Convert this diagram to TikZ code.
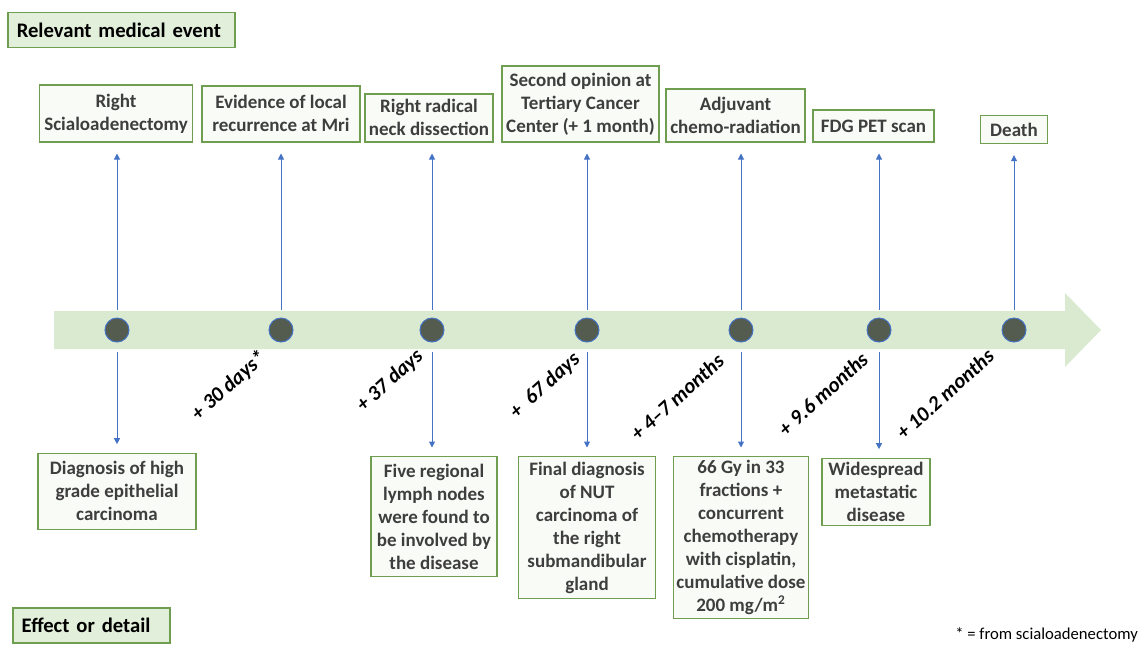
\documentclass[tikz,border=0pt]{standalone}
\usepackage{fontspec}
\setmainfont{Carlito}
\usetikzlibrary{positioning}
\usetikzlibrary{arrows.meta}
\definecolor{bandgreen}{RGB}{218,234,208}
\definecolor{keyfill}{RGB}{226,239,218}
\definecolor{boxline}{RGB}{112,158,80}
\definecolor{boxfill}{RGB}{249,251,246}
\definecolor{linkblue}{RGB}{68,114,196}
\definecolor{dotfill}{RGB}{84,92,80}
\definecolor{boxtext}{RGB}{62,62,62}
\tikzset{
  keybox/.style= {
    draw = boxline,
    line width = 0.9pt,
    fill = keyfill,
    text width = #1,
    align = left,
    inner xsep = 5.4pt,
    minimum height = 21pt,
    font = \fontsize{12.4}{15}\selectfont\bfseries,
    text = black
  },
  eventbox/.style= {
    draw = boxline,
    line width = 0.8pt,
    fill = boxfill,
    align = center,
    inner xsep = 1.8pt,
    inner ysep = 2pt,
    font = \fontsize{11.4}{13.8}\selectfont\bfseries,
    text = boxtext
  },
  stepdot/.style= {
    circle,
    draw = linkblue,
    line width = 0.6pt,
    fill = dotfill,
    minimum size = 14.4pt,
    inner sep = 0pt
  },
  uplink/.style= {
    draw = linkblue,
    line width = 0.6pt,
    -{Triangle[length=3.6pt,width=3.6pt]},
    shorten < = 4.8pt,
    shorten > = 6.6pt
  },
  downlink/.style= {
    draw = linkblue,
    line width = 0.6pt,
    -{Triangle[length=3.6pt,width=3.6pt]},
    shorten < = 5.4pt,
    shorten > = 5pt
  },
  delay/.style= {
    rotate = 42,
    inner sep = 0pt,
    font = \fontsize{12.6}{15}\selectfont\bfseries\itshape
  }
}

\begin{document}
\begin{tikzpicture}[x=0.6pt,y=-0.6pt]
  \useasboundingbox (0,0) rectangle (1141,646);

  % timeline band
  \fill[bandgreen] (54,311) -- (1065,311) -- (1065,293) -- (1101,330)
    -- (1065,367) -- (1065,349) -- (54,349) -- cycle;

  \node[keybox=125.4pt,anchor=west] (keyevent) at (7,30) {\mbox{Relevant medical event}};
  \node[keybox=83.4pt,anchor=west] (keyeffect) at (12,625.5) {\mbox{Effect or detail}};

  \node[stepdot] (d1) at (117,330) {};
  \node[stepdot] (d2) at (281,330) {};
  \node[stepdot] (d3) at (432,330) {};
  \node[stepdot] (d4) at (587,330) {};
  \node[stepdot] (d5) at (741,330) {};
  \node[stepdot] (d6) at (879,330) {};
  \node[stepdot] (d7) at (1014,330) {};

  % relevant medical events
  \node[eventbox,above=105pt of d1,xshift=-0.6pt,minimum width=91.8pt,minimum height=34.2pt] (e1) {Right\\Scialoadenectomy};
  \node[eventbox,above=105pt of d2,minimum width=94.8pt,minimum height=33.6pt] (e2) {Evidence of local\\recurrence at Mri};
  \node[eventbox,above=105pt of d3,xshift=-1.8pt,minimum width=76.8pt,minimum height=28.8pt] (e3) {Right radical\\neck dissection};
  \node[eventbox,above=105pt of d4,xshift=-3.9pt,minimum width=94.2pt,minimum height=45.6pt] (e4) {Second opinion at\\Tertiary Cancer\\Center (+ 1 month)};
  \node[eventbox,above=105pt of d5,xshift=-3.3pt,minimum width=83.4pt,minimum height=31.8pt] (e5) {Adjuvant\\chemo-radiation};
  \node[eventbox,above=105pt of d6,xshift=-3.3pt,minimum width=72.6pt,minimum height=19.2pt] (e6) {FDG PET scan};
  \node[eventbox,above=104pt of d7,minimum width=40.2pt,minimum height=16.8pt] (e7) {Death};

  \foreach \i in {1,...,7}
    \draw[uplink] (d\i) -- (d\i |- e\i.south);

  % effects or details
  \node[eventbox,below=66pt of d1,minimum width=94.8pt,minimum height=45.6pt] (f1) {Diagnosis of high\\grade epithelial\\carcinoma};
  \node[eventbox,below=68pt of d3,xshift=1.2pt,minimum width=75.6pt,minimum height=72pt] (f3) {Five regional\\lymph nodes\\were found to\\be involved by\\the disease};
  \node[eventbox,below=68pt of d4,minimum width=82.2pt,minimum height=85.2pt] (f4) {Final diagnosis\\of NUT\\carcinoma of\\the right\\submandibular\\gland};
  \node[eventbox,below=68pt of d5,minimum width=80.4pt,minimum height=97.2pt] (f5) {66 Gy in 33\\fractions +\\concurrent\\chemotherapy\\with cisplatin,\\cumulative dose\\200 mg/m\textsuperscript{2}};
  \node[eventbox,below=69pt of d6,xshift=-1.8pt,minimum width=64.8pt,minimum height=40.2pt] (f6) {Widespread\\metastatic\\disease};

  \foreach \i in {1,3,4,5,6}
    \draw[downlink] (d\i) -- (d\i |- f\i.north);

  % elapsed time
  \node[delay] (t2) at (229,386) {+ 30 days*};
  \node[delay] (t3) at (390,381) {+ 37 days};
  \node[delay] (t4) at (545,386) {+\ \ 67 days};
  \node[delay] (t5) at (677,397) {+ 4--7 months};
  \node[delay] (t6) at (823,394) {+ 9.6 months};
  \node[delay] (t7) at (945,394) {+ 10.2 months};

  \node[anchor=west,inner sep=0pt,font=\fontsize{10}{12}\selectfont] (note) at (955,635) {* = from scialoadenectomy};
\end{tikzpicture}
\end{document}
